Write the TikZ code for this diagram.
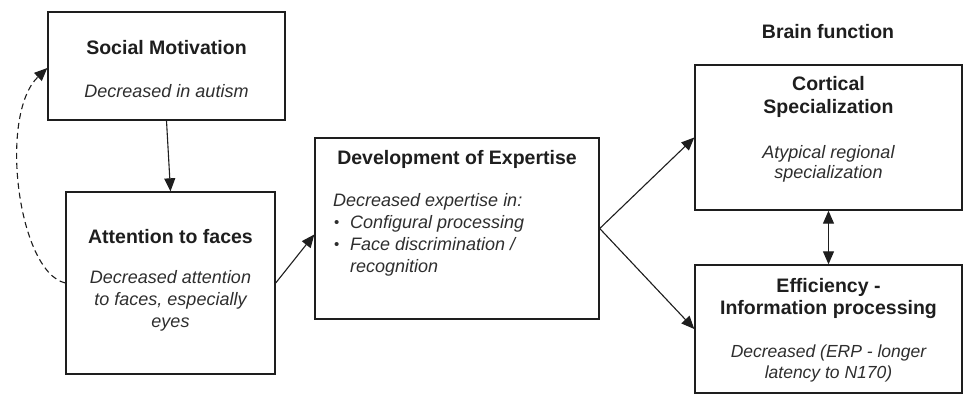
\documentclass[tikz,border=0pt]{standalone}
\usepackage{fontspec}
\setmainfont{Liberation Sans}
\usetikzlibrary{arrows.meta,calc}
\definecolor{ink}{HTML}{1E1E1E}
\definecolor{soft}{HTML}{2E2E2E}
\tikzset{
  box/.style={draw=ink,line width=1.4pt,rectangle,inner sep=0pt},
  ttl/.style={font=\fontsize{19.5}{22.5}\selectfont\bfseries,text=ink,align=center,inner sep=0pt},
  desc/.style={font=\fontsize{18}{22}\selectfont\itshape,text=soft,align=center,inner sep=0pt},
  conn/.style={draw=ink,line width=1.1pt,-{Triangle[length=13pt,width=11pt]}},
}
\begin{document}
\begin{tikzpicture}[x=1pt,y=-1pt]
\useasboundingbox (0,0) rectangle (969,405);
\fill[white] (0,0) rectangle (969,405);

% boxes
\node[box,minimum width=237pt,minimum height=108pt] (soc) at (166.5,66) {};
\node[box,minimum width=209pt,minimum height=182pt] (att) at (170.5,283) {};
\node[box,minimum width=284pt,minimum height=181pt] (dev) at (457,228.5) {};
\node[box,minimum width=267pt,minimum height=145pt] (cort) at (828.5,137.5) {};
\node[box,minimum width=267pt,minimum height=128pt] (eff) at (828.5,329) {};

% texts
\node[ttl] (socT) at (166.5,48) {Social Motivation};
\node[desc] (socD) at (166.5,91) {Decreased in autism};

\node[ttl] (attT) at (170.5,237) {Attention to faces};
\node[desc] (attD) at (170.5,301) {Decreased attention\\to faces, especially\\eyes};

\node[ttl] (devT) at (457,159) {Development of Expertise};
\node[desc,anchor=west] (devD) at (333,202) {Decreased expertise in:};
\node[desc,anchor=west,font=\fontsize{15}{22}\selectfont] (devB1) at (334,224) {\textbullet};
\node[desc,anchor=west] (devI1) at (350,224) {Configural processing};
\node[desc,anchor=west,font=\fontsize{15}{22}\selectfont] (devB2) at (334,246) {\textbullet};
\node[desc,anchor=west,align=left] (devI2) at (350,257) {Face discrimination /\\recognition};

\node[ttl] (brain) at (828,32) {Brain function};
\node[ttl] (cortT) at (828.5,97) {Cortical\\Specialization};
\node[desc,font=\fontsize{18}{20}\selectfont\itshape] (cortD) at (828.5,164) {Atypical regional\\specialization};

\node[ttl] (effT) at (828.5,298.5) {Efficiency -\\Information processing};
\node[desc,font=\fontsize{17.5}{21}\selectfont\itshape] (effD) at (828.5,363.5) {Decreased (ERP - longer\\latency to N170)};

% connectors
\draw[conn] (soc.south) -- (att.north);
\draw[conn] (att.east) -- ($(dev.west)+(0,6)$);
\draw[conn] (dev.east) -- (cort.west);
\draw[conn] (dev.east) -- (eff.west);
\draw[draw=ink,line width=1.1pt,{Triangle[length=13pt,width=11pt]}-{Triangle[length=13pt,width=11pt]}] (cort.south) -- (eff.north);
\draw[conn,dashed,dash pattern=on 6pt off 4pt] (att.west) .. controls (18,272) and (-2,115) .. ($(soc.west)+(0,2)$);
\end{tikzpicture}
\end{document}
